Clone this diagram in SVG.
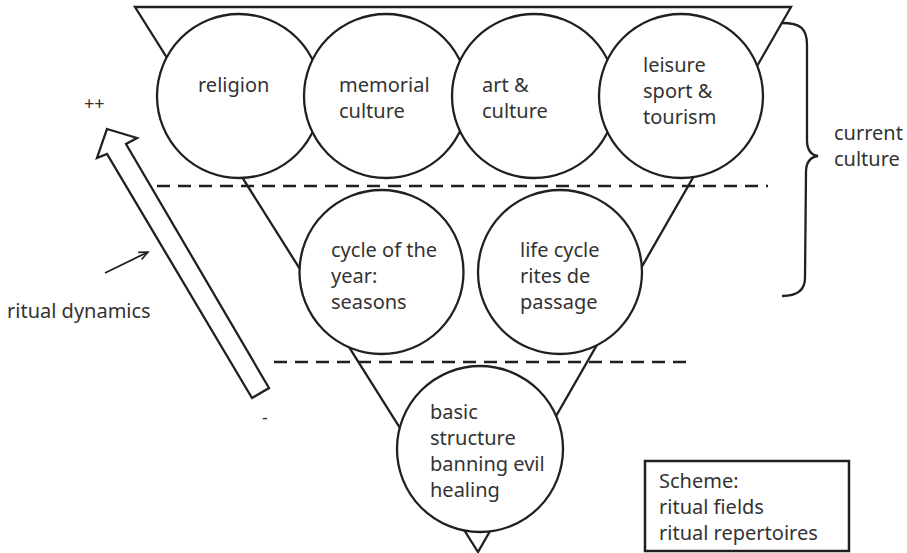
<svg xmlns="http://www.w3.org/2000/svg" width="907" height="553" viewBox="0 0 907 553">
<style>
.ln{fill:none;stroke:#231f20;stroke-width:2.3}
.c{fill:#fff;stroke:#231f20;stroke-width:2.3}
.t{font-family:"Noto Sans",sans-serif;font-size:20px;fill:#333}
.d{fill:none;stroke:#231f20;stroke-width:2.5;stroke-dasharray:13 8}
</style>
<defs>
<marker id="ah" markerWidth="12" markerHeight="12" refX="10" refY="5" orient="auto" markerUnits="userSpaceOnUse">
<polyline points="1,1 10,5 1,9" fill="none" stroke="#231f20" stroke-width="1.6"/>
</marker>
</defs>
<rect width="907" height="553" fill="#fff"/>
<polygon class="ln" points="135,7 791,7 478,552"/>
<g id="dashes">
<line class="d" x1="157" y1="186" x2="768" y2="186"/>
<line class="d" x1="274" y1="362" x2="690" y2="362"/>
</g>
<g id="religion"><circle class="c" cx="239" cy="96" r="82"/><text class="t" x="198" y="92">religion</text></g>
<g id="memorial"><circle class="c" cx="386" cy="96" r="82"/><text class="t" x="339" y="92">memorial</text><text class="t" x="339" y="118">culture</text></g>
<g id="art"><circle class="c" cx="534" cy="96" r="82"/><text class="t" x="482" y="92">art &amp;</text><text class="t" x="482" y="118">culture</text></g>
<g id="leisure"><circle class="c" cx="681" cy="96" r="82"/><text class="t" x="643" y="72">leisure</text><text class="t" x="643" y="98">sport &amp;</text><text class="t" x="643" y="124">tourism</text></g>
<g id="cycle"><circle class="c" cx="381.5" cy="272" r="82"/><text class="t" x="331" y="257">cycle of the</text><text class="t" x="331" y="283">year:</text><text class="t" x="331" y="309">seasons</text></g>
<g id="life"><circle class="c" cx="560" cy="272" r="82"/><text class="t" x="520" y="257">life cycle</text><text class="t" x="520" y="283">rites de</text><text class="t" x="520" y="309">passage</text></g>
<g id="basic"><circle class="c" cx="480" cy="449" r="83"/><text class="t" x="430" y="419">basic</text><text class="t" x="430" y="445">structure</text><text class="t" x="430" y="471">banning evil</text><text class="t" x="430" y="497">healing</text></g>
<g id="dynamics-arrow">
<polygon class="ln" stroke-linejoin="miter" points="107,129 137,138 126,144 269,388 252,398 107,154 97,158"/>
<text class="t" x="84" y="110" style="font-size:18px">++</text>
<text class="t" x="262" y="424" style="font-size:18px">-</text>
</g>
<g id="ritual-dynamics"><text class="t" x="7" y="318">ritual dynamics</text></g>
<g id="connectors">
<line x1="105" y1="273" x2="148" y2="252" stroke="#231f20" stroke-width="1.8" marker-end="url(#ah)"/>
</g>
<g id="current-culture">
<path class="ln" d="M782,23 C800,23 807,28 807,45 L807,140 C807,150 811,155 818,156 C811,157 806,162 806,172 L805,278 C805,290 798,296 782,296"/>
<text class="t" x="834" y="140">current</text><text class="t" x="834" y="166">culture</text>
</g>
<g id="scheme">
<rect x="645" y="461" width="204" height="90" fill="#fff" stroke="#231f20" stroke-width="2.5"/>
<text class="t" x="659" y="488">Scheme:</text><text class="t" x="659" y="514">ritual fields</text><text class="t" x="659" y="540">ritual repertoires</text>
</g>
</svg>
